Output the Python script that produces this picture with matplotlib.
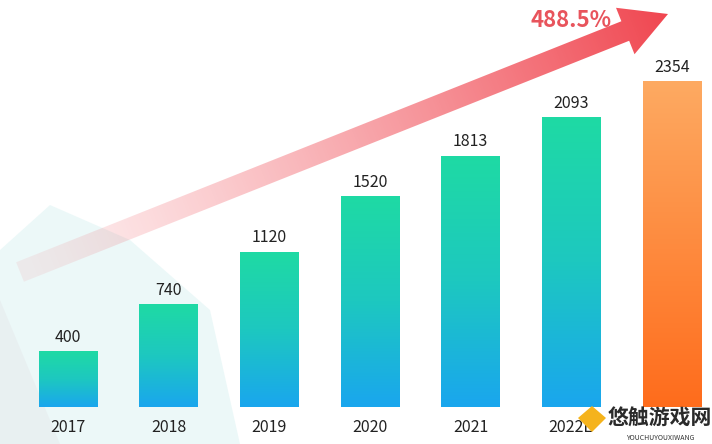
import numpy as np
import matplotlib
matplotlib.use('Agg')
import matplotlib.pyplot as plt
from matplotlib.colors import LinearSegmentedColormap, to_rgb
from matplotlib.patches import Polygon

plt.rcParams['font.family'] = ['Noto Sans CJK SC', 'DejaVu Sans']

# дані
years = ['2017', '2018', '2019', '2020', '2021', '2022E', '2023E']
values = [400, 740, 1120, 1520, 1813, 2093, 2354]
growth = '488.5%'

fig = plt.figure(figsize=(7.12, 4.44), dpi=100)
fig.patch.set_facecolor('white')

# фон (декоративний шар у пікселях)
bg = fig.add_axes([0, 0, 1, 1])
bg.set_xlim(0, 712)
bg.set_ylim(444, 0)
bg.axis('off')
bg.add_patch(Polygon([(0, 250), (50, 205), (130, 240), (210, 310), (240, 444), (0, 444)],
                     closed=True, fc='#e4f6f6', ec='none', alpha=0.7))
bg.add_patch(Polygon([(0, 300), (60, 444), (0, 444)], closed=True, fc='#e8eef0', ec='none', alpha=0.8))

# основні осі
ax = fig.add_axes([0, 0, 1, 1])
ax.axis('off')
ax.patch.set_alpha(0)

green_blue = LinearSegmentedColormap.from_list('gb', ['#1aa6ee', '#1dc8c0', '#1fdaa4'])
orange = LinearSegmentedColormap.from_list('or', ['#ff6c1c', '#fdaa62'])
grad = np.linspace(0, 1, 256).reshape(-1, 1)

w = 0.58
for i, v in enumerate(values):
    cmap = orange if i == len(values) - 1 else green_blue
    ax.imshow(grad, extent=[i - w / 2, i + w / 2, 0, v], origin='lower',
              aspect='auto', cmap=cmap, zorder=2)
    ax.text(i, v + 105, str(v), ha='center', va='center', fontsize=11.5, color='#222222', zorder=4)
    # підпис останнього року закритий водяним знаком
    if i < len(values) - 1:
        ax.text(i, -150, years[i], ha='center', va='center', fontsize=11.5, color='#222222', zorder=4)
ax.set_xlim(-0.676, 6.40)
ax.set_ylim(-268, 2945)

# стрілка з градієнтом
ov = fig.add_axes([0, 0, 1, 1])
ov.set_xlim(0, 712)
ov.set_ylim(444, 0)
ov.axis('off')
ov.patch.set_alpha(0)

tail = np.array([20.0, 272.0])
tip = np.array([668.0, 14.0])
d = tip - tail
L = np.hypot(*d)
u = d / L
n = np.array([-u[1], u[0]])
hw, hl, hh = 10.5, 46, 25
base = tip - u * hl
pts = [tail + n * hw, base + n * hw, base + n * hh, tip,
       base - n * hh, base - n * hw, tail - n * hw]
arrow = Polygon(pts, closed=True, fc='none', ec='none')
ov.add_patch(arrow)

xx, yy = np.meshgrid(np.arange(712) + 0.5, np.arange(444) + 0.5)
t = ((xx - tail[0]) * u[0] + (yy - tail[1]) * u[1]) / L
t = np.clip(t, 0, 1)
rgba = np.zeros((444, 712, 4))
rgba[..., :3] = to_rgb('#f0454f')
rgba[..., 3] = 0.08 + 0.92 * t ** 1.3
im = ov.imshow(rgba, extent=[0, 712, 444, 0], origin='upper', zorder=3)
im.set_clip_path(arrow)

ov.text(612, 20, growth, ha='right', va='center', fontsize=16, fontweight='bold', color='#e8545c')

# водяний знак
ov.add_patch(Polygon([(578, 418), (592, 406), (606, 418), (592, 432)], closed=True,
                     fc='#f5b31c', ec='none', zorder=5))
ov.text(660, 418, '悠触游戏网', ha='center', va='center', fontsize=15, fontweight='bold', color='#2a2a2a', zorder=5)
ov.text(660, 438, 'YOUCHUYOUXIWANG', ha='center', va='center', fontsize=5, color='#333333', zorder=5)

fig.savefig('out.png', dpi=100)
